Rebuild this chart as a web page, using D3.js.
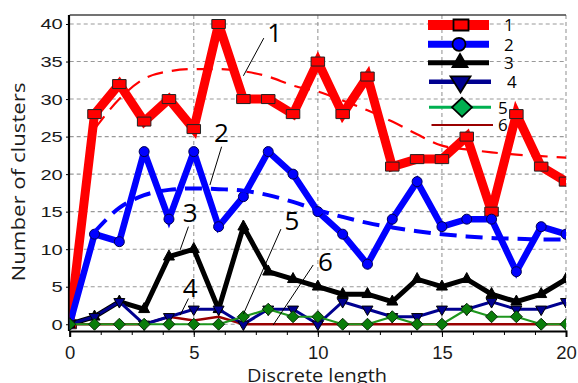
<!DOCTYPE html>
<html><head><meta charset="utf-8">
<script src="https://cdn.jsdelivr.net/npm/d3@7"></script>
<style>body{margin:0;background:#fff}</style>
</head><body>
<svg id="c" width="578" height="383"></svg>
<script>
// ---------- data ----------
const xValues = d3.range(0, 21);
const series1 = [0,28,32,27,30,26,40,30,30,28,35,28,33,21,22,22,25,15,28,21,19];
const series2 = [0,12,11,23,14,23,13,17,23,20,15,12,8,14,19,13,14,14,7,13,12];
const series3 = [0,1,3,2,9,10,2,13,7,6,5,4,4,3,6,5,6,4,3,4,6];
const series4 = [0,1,3,0,1,2,2,0,2,2,0,3,2,1,1,2,2,3,2,2,3];
const series5 = [0,0,0,0,0,0,0,1,2,1,1,0,0,1,0,0,2,1,1,0,0];
const series6 = [0,0,0,0,1,0.5,1,0,0,0,0,0,0,0,0,0,0,0,0,0,0];
const trendX = d3.range(1, 21);
const trend1 = [26,30,32.7,33.7,34,34,33.7,33,31.8,31,29.8,28.5,27,25.3,23.8,23.3,22.9,22.6,22.4,22.2];
const trend2 = [12.3,15.5,17.2,17.9,18.1,18,17.8,17.2,16.3,15.2,14.3,13.5,12.9,12.4,12,11.7,11.5,11.4,11.3,11.3];
const legendLabels = ["1","2","3","4","5","6"];
const xTicks = [0,5,10,15,20];
const yTicks = [0,5,10,15,20,25,30,35,40];
const annotations = [
  {label:"1", x:7.0,  y:33.1},
  {label:"2", x:5.65, y:18.55},
  {label:"3", x:4.45, y:9.9},
  {label:"4", x:4.45, y:1.2},
  {label:"5", x:7.0,  y:1.35},
  {label:"6", x:8.2,  y:-0.1}
];

// ---------- layout ----------
const svg = d3.select("#c");
const L = 69.7, R = 566, T = 15, B = 331;
const x = d3.scaleLinear().domain([0,20]).range([L,R]);
const y = d3.scaleLinear().domain([-0.9,41.2]).range([B,T]);

svg.append("defs").append("clipPath").attr("id","clip")
  .append("rect").attr("x",L).attr("y",T-10).attr("width",R-L).attr("height",B-T+10);

// grid
const grid = svg.append("g").attr("stroke","#999").attr("stroke-width",1.1).attr("stroke-dasharray","4,3");
yTicks.forEach(v=>grid.append("line").attr("x1",L).attr("x2",R).attr("y1",y(v)).attr("y2",y(v)));
xTicks.filter(v=>v>0).forEach(v=>grid.append("line").attr("x1",x(v)).attr("x2",x(v)).attr("y1",T).attr("y2",B));

// frame
svg.append("line").attr("x1",L).attr("x2",R).attr("y1",T).attr("y2",T).attr("stroke","#444").attr("stroke-width",1.5);

// axes
const xAxis = d3.axisBottom(x).tickValues(xTicks).tickSize(6).tickPadding(4).tickFormat(d3.format("d"));
const gx = svg.append("g").attr("transform",`translate(0,${B})`).call(xAxis);
gx.select(".domain").attr("stroke","#000").attr("stroke-width",2);
gx.selectAll("text").attr("font-family","Liberation Sans, Arial, sans-serif").attr("font-size",18.5).attr("fill","#1a1a1a").attr("dy","0.95em");
const gxm = svg.append("g").attr("transform",`translate(0,${B})`)
  .call(d3.axisBottom(x).tickValues(d3.range(0,20.01,1.25)).tickSize(4).tickFormat(""));
gxm.select(".domain").remove();

const yAxis = d3.axisLeft(y).tickValues(yTicks).tickSize(3).tickPadding(7).tickFormat(d3.format("d"));
const gy = svg.append("g").attr("transform",`translate(${L-0.7},0)`).call(yAxis);
gy.select(".domain").attr("stroke","#000").attr("stroke-width",2.2).attr("d",`M0,${T}V${B}`);
gy.selectAll(".tick text").attr("font-family","Liberation Sans, Arial, sans-serif").attr("font-size",15.5).attr("fill","#1a1a1a")
  .attr("transform","translate(-7,0) scale(1.3,1) translate(7,0)")
  .attr("x",-7/1.3 - 1);

// axis titles
svg.append("text").attr("x",317).attr("y",381.5).attr("text-anchor","middle")
  .attr("font-family","Open Sans, Noto Sans, sans-serif").attr("font-size",19).attr("fill","#1a1a1a")
  .attr("textLength",140).attr("lengthAdjust","spacingAndGlyphs").text("Discrete length");
svg.append("text").attr("transform","translate(25,182) rotate(-90)").attr("text-anchor","middle")
  .attr("font-family","Open Sans, Noto Sans, sans-serif").attr("font-size",19).attr("fill","#1a1a1a")
  .attr("textLength",199).attr("lengthAdjust","spacingAndGlyphs").text("Number of clusters");

// marker shapes
function shape(type, w, h){
  if(type==="square") return `M${-w/2},${-h/2}h${w}v${h}h${-w}Z`;
  if(type==="circle") return d3.symbol(d3.symbolCircle, Math.PI*(w/2)*(w/2))();
  if(type==="up") return `M0,${-2*h/3}L${w/2},${h/3}L${-w/2},${h/3}Z`;
  if(type==="down") return `M0,${2*h/3}L${w/2},${-h/3}L${-w/2},${-h/3}Z`;
  if(type==="diamond") return `M0,${-h/2}L${w/2},0L0,${h/2}L${-w/2},0Z`;
  return null;
}

const seriesDefs = [
  {vals:series1, color:"#ff0000", width:9, marker:"square", mw:13.5, mh:9, fill:"#ff0000", mstroke:"#222",
   lg:{color:"#ff0000", width:10, mw:15, mh:11, fill:"#ff0000"}},
  {vals:series2, color:"#0000ff", width:6.5, marker:"circle", mw:10, mh:10, fill:"#0000ff", mstroke:"#000050",
   lg:{color:"#0000ff", width:7, mw:13, mh:13, fill:"#0000ff"}},
  {vals:series3, color:"#000000", width:5, marker:"up", mw:11, mh:10, fill:"#000", mstroke:"#000",
   lg:{color:"#000", width:5, mw:15, mh:13, fill:"#000"}},
  {vals:series4, color:"#000090", width:3, marker:"down", mw:11, mh:9.5, fill:"#000090", mstroke:"#000",
   lg:{color:"#000090", width:4.5, mw:20, mh:16, fill:"#000090"}},
  {vals:series5, color:"#1e961e", width:2.2, marker:"diamond", mw:12, mh:12, fill:"#0a7d0a", mstroke:"#0a2a0a",
   lg:{color:"#00b050", width:3, mw:20, mh:19, fill:"#00b050"}},
  {vals:series6, color:"#990000", width:2.5, marker:null,
   lg:{color:"#990000", width:2.2}}
];

const plot = svg.append("g").attr("clip-path","url(#clip)");
const line = d3.line().x((d,i)=>x(xValues[i])).y(d=>y(d));
const drawOrder = [0,1,2,5,3,4];
drawOrder.forEach(k=>{
  const s = seriesDefs[k];
  const g = plot.append("g");
  g.append("path").attr("d",line(s.vals)).attr("fill","none").attr("stroke",s.color)
    .attr("stroke-width",s.width).attr("stroke-linejoin","miter").attr("stroke-miterlimit",3);
  if(s.marker){
    g.selectAll("path.m").data(s.vals).join("path").attr("class","m")
      .attr("transform",(d,i)=>`translate(${x(xValues[i])},${y(d)})`)
      .attr("d",shape(s.marker,s.mw,s.mh)).attr("fill",s.fill).attr("stroke",s.mstroke).attr("stroke-width",1);
  }
});

// trend lines
const tline = d3.line().curve(d3.curveMonotoneX).x((d,i)=>x(trendX[i])).y(d=>y(d));
plot.append("path").attr("d",tline(trend1)).attr("fill","none").attr("stroke","#ff0000")
  .attr("stroke-width",2.2).attr("stroke-dasharray","16,9");
plot.append("path").attr("d",tline(trend2)).attr("fill","none").attr("stroke","#0000ff")
  .attr("stroke-width",4).attr("stroke-dasharray","17,9");

// annotations
const annOffsets = {
  "1":{lx:20.4, ly:-37.7, tx:31.2, ty:-34},
  "2":{lx:11.7, ly:-38.3, tx:11.5, ty:-43},
  "3":{lx:8.3,  ly:-23.3, tx:10,   ty:-28},
  "4":{lx:8.3,  ly:-16.7, tx:10,   ty:-18},
  "5":{lx:37.5, ly:-85,   tx:48.5, ty:-84},
  "6":{lx:40,   ly:-60,   tx:52.2, ty:-54}
};
const ann = svg.append("g");
annotations.forEach(a=>{
  const o = annOffsets[a.label], px = x(a.x), py = y(a.y);
  ann.append("line").attr("x1",px).attr("y1",py).attr("x2",px+o.lx).attr("y2",py+o.ly)
    .attr("stroke","#000").attr("stroke-width",1);
  ann.append("text").attr("x",px+o.tx).attr("y",py+o.ty).attr("text-anchor","middle")
    .attr("font-family","Open Sans, Noto Sans, sans-serif").attr("font-size",26).attr("fill","#000").text(a.label);
});

// legend
const legY = [25, 44.3, 62.7, 81.8, 107.3, 125];
const legX1 = [428,428,428,429,429,431.5], legX2 = [489,489,489,491,491,493];
const legMX = [461,459,460,460.5,462,0];
const legTX = [504,504,504,507,498,498];
const leg = svg.append("g");
seriesDefs.forEach((s,i)=>{
  leg.append("line").attr("x1",legX1[i]).attr("x2",legX2[i]).attr("y1",legY[i]).attr("y2",legY[i])
    .attr("stroke",s.lg.color).attr("stroke-width",s.lg.width);
  if(s.marker){
    leg.append("path").attr("transform",`translate(${legMX[i]},${legY[i]})`)
      .attr("d",shape(s.marker,s.lg.mw,s.lg.mh)).attr("fill",s.lg.fill).attr("stroke","#000").attr("stroke-width",1.8);
  }
  leg.append("text").attr("x",legTX[i]).attr("y",legY[i]+6.2)
    .attr("font-family","Open Sans, Noto Sans, sans-serif").attr("font-size",17).attr("fill","#000").text(legendLabels[i]);
});
</script>
</body></html>
